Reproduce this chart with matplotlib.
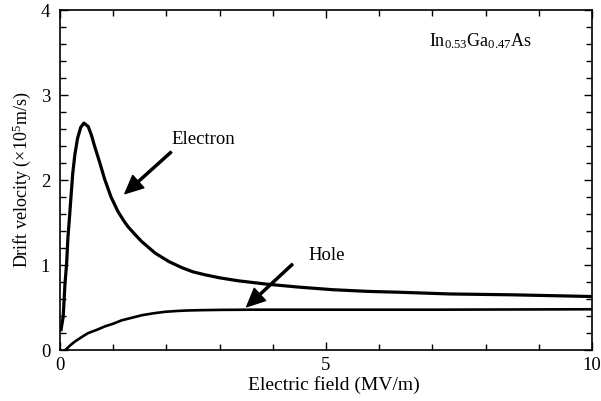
import numpy as np
import matplotlib.pyplot as plt
from matplotlib.ticker import MultipleLocator

plt.rcParams['font.family'] = ['Liberation Serif', 'DejaVu Serif']
plt.rcParams['mathtext.fontset'] = 'custom'
plt.rcParams['mathtext.rm'] = 'Liberation Serif'
plt.rcParams['mathtext.it'] = 'Liberation Serif:italic'

# electron drift velocity (1e5 m/s) vs field (MV/m)
e_field = [0.02, 0.06, 0.094, 0.125, 0.15, 0.18, 0.21, 0.24, 0.28, 0.33, 0.39,
           0.45, 0.53, 0.59, 0.65, 0.75, 0.84, 0.96, 1.09, 1.2, 1.28, 1.41, 1.53,
           1.79, 2.05, 2.29, 2.5, 2.73, 3.0, 3.35, 3.89, 4.5, 5.13, 5.8, 6.39,
           7.33, 8.5, 10.0]
e_vel = [0.24, 0.39, 0.78, 1.02, 1.33, 1.57, 1.83, 2.08, 2.30, 2.49, 2.62,
         2.67, 2.63, 2.53, 2.40, 2.20, 2.01, 1.80, 1.63, 1.52, 1.45, 1.36, 1.28,
         1.14, 1.04, 0.97, 0.92, 0.885, 0.85, 0.815, 0.775, 0.74, 0.71, 0.69, 0.68,
         0.66, 0.65, 0.63]

# hole
h_field = [0.1, 0.2, 0.28, 0.4, 0.53, 0.7, 0.85, 1.0, 1.16, 1.35, 1.54, 1.75,
           1.97, 2.2, 2.41, 2.7, 3.04, 3.6, 5.0, 7.0, 10.0]
h_vel = [0.0, 0.06, 0.1, 0.15, 0.2, 0.24, 0.28, 0.31, 0.35, 0.38, 0.41, 0.432,
         0.45, 0.46, 0.466, 0.47, 0.473, 0.475, 0.475, 0.475, 0.48]

fig = plt.figure(figsize=(6.01, 4.01), dpi=100)
ax = fig.add_axes([0.0998, 0.127, 0.8852, 0.848])

ax.plot(e_field, e_vel, color='black', lw=2.3, solid_joinstyle='round')
ax.plot(h_field, h_vel, color='black', lw=1.9, solid_joinstyle='round')

ax.set_xlim(0, 10)
ax.set_ylim(0, 4)
ax.xaxis.set_major_locator(MultipleLocator(5))
ax.xaxis.set_minor_locator(MultipleLocator(1))
ax.yaxis.set_major_locator(MultipleLocator(1))
ax.yaxis.set_minor_locator(MultipleLocator(0.2))
ax.tick_params(which='both', direction='in', top=True, right=True, labelsize=13.5)
ax.tick_params(which='major', length=6, width=1)
ax.tick_params(which='minor', length=4, width=1)
ax.tick_params(axis='x', pad=5)
ax.tick_params(axis='y', pad=7)
for s in ax.spines.values():
    s.set_linewidth(1.2)

ax.set_xlabel('Electric field (MV/m)', fontsize=14, labelpad=0)
ax.xaxis.set_label_coords(0.515, -0.075)
ax.set_ylabel(r'Drift velocity ($\times$10$^5$m/s)', fontsize=13, labelpad=6)

ax.text(7.91, 3.63, r'In$_{0.53}$Ga$_{0.47}$As', fontsize=13, ha='center', va='center')

arrow = dict(facecolor='black', edgecolor='black', width=1.5, headwidth=12, headlength=13, shrink=0)
ax.annotate('', xy=(1.22, 1.84), xytext=(2.09, 2.33), arrowprops=arrow)
ax.text(2.69, 2.48, 'Electron', fontsize=13.5, ha='center', va='center')
ax.annotate('', xy=(3.51, 0.51), xytext=(4.37, 1.01), arrowprops=arrow)
ax.text(5.02, 1.11, 'Hole', fontsize=13.5, ha='center', va='center')

fig.savefig('out.png', dpi=100)
